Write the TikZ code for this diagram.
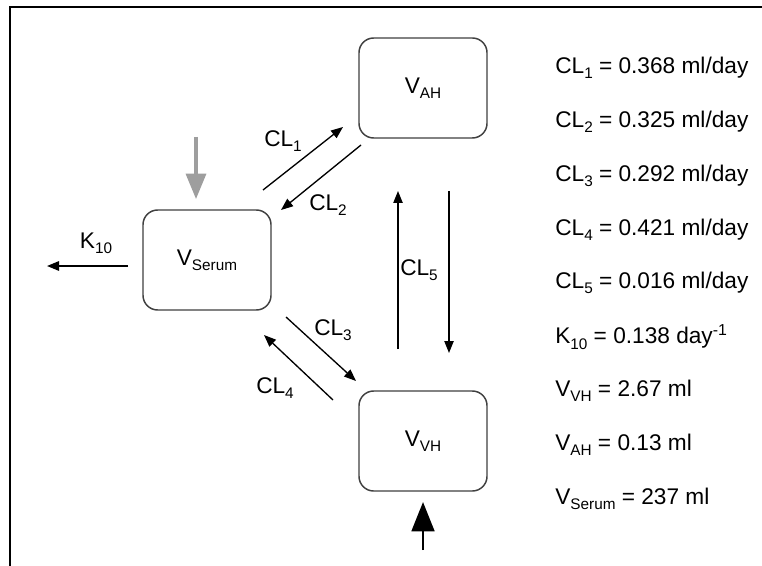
\documentclass[tikz,border=0pt]{standalone}
\usepackage{fontspec}
\setmainfont{Liberation Sans}
\usetikzlibrary{arrows.meta}

\newcommand{\lo}[1]{\raisebox{-0.45ex}{\fontsize{11.5}{12}\selectfont #1}}
\newcommand{\hi}[1]{\textsuperscript{#1}}

\tikzset{
  comp/.style={draw=black!75, line width=1.1pt, rounded corners=11pt,
    minimum width=96pt, minimum height=75pt, inner sep=0pt},
  flow/.style={-{Triangle[length=9pt,width=7pt]}, line width=1pt},
  lbl/.style={inner sep=0pt},
  par/.style={anchor=west, inner sep=0pt},
}

\begin{document}
\begin{tikzpicture}[x=0.75pt, y=-0.75pt, font=\fontsize{17}{21}\selectfont]
    \useasboundingbox (0,0) rectangle (762,566);
    \fill[white] (0,0) rectangle (762,566);
    \draw[line width=1.4pt] (10,570) -- (10,7) -- (766,7);

    % compartments
    \node[comp] (vah) at (423,88) {V\lo{AH}};
    \node[comp] (serum) at (207,260) {V\lo{Serum}};
    \node[comp] (vvh) at (423,441) {V\lo{VH}};

    % ends of the exchange arrows
    \coordinate (s1) at (263,190);
    \coordinate (a1) at (343,127);
    \coordinate (a2) at (361,145);
    \coordinate (s2) at (281,210);
    \coordinate (s3) at (286,317);
    \coordinate (v3) at (356,381);
    \coordinate (v4) at (333,400);
    \coordinate (s4) at (264,335);
    \coordinate (v5) at (398,349);
    \coordinate (a5) at (398,191);
    \coordinate (a6) at (449,191);
    \coordinate (v6) at (449,353);
    \coordinate (k0) at (128,266);
    \coordinate (k1) at (47,266);
    \coordinate (d0) at (196,137);
    \coordinate (d1) at (196,199);
    \coordinate (p0) at (423,550);
    \coordinate (p1) at (423,502);

    \draw[flow] (s1) -- (a1);
    \draw[flow] (a2) -- (s2);
    \draw[flow] (s3) -- (v3);
    \draw[flow] (v4) -- (s4);
    \draw[flow] (v5) -- (a5);
    \draw[flow] (a6) -- (v6);
    \draw[flow, line width=1.4pt] (k0) -- (k1);

    % dose into serum (grey) and production into the vitreous
    \draw[-{Triangle[length=19pt,width=15pt]}, line width=2.4pt, black!38] (d0) -- (d1);
    \draw[-{Triangle[length=22pt,width=17pt]}, line width=2.2pt] (p0) -- (p1);

    \node[lbl] (lcl1) at (283,141) {CL\lo{1}};
    \node[lbl] (lcl2) at (328,205) {CL\lo{2}};
    \node[lbl] (lcl3) at (333,330) {CL\lo{3}};
    \node[lbl] (lcl4) at (275,388) {CL\lo{4}};
    \node[lbl] (lcl5) at (419,270) {CL\lo{5}};
    \node[lbl] (lk10) at (96,243) {K\lo{10}};

    % parameter values
    \node[par] (p1) at (555,68) {CL\lo{1} = 0.368 ml/day};
    \node[par] (p2) at (555,122) {CL\lo{2} = 0.325 ml/day};
    \node[par] (p3) at (555,176) {CL\lo{3} = 0.292 ml/day};
    \node[par] (p4) at (555,230) {CL\lo{4} = 0.421 ml/day};
    \node[par] (p5) at (555,283) {CL\lo{5} = 0.016 ml/day};
    \node[par] (p6) at (555,337) {K\lo{10} = 0.138 day\hi{-1}};
    \node[par] (p7) at (555,391) {V\lo{VH} = 2.67 ml};
    \node[par] (p8) at (555,445) {V\lo{AH} = 0.13 ml};
    \node[par] (p9) at (555,499) {V\lo{Serum} = 237 ml};
\end{tikzpicture}
\end{document}
